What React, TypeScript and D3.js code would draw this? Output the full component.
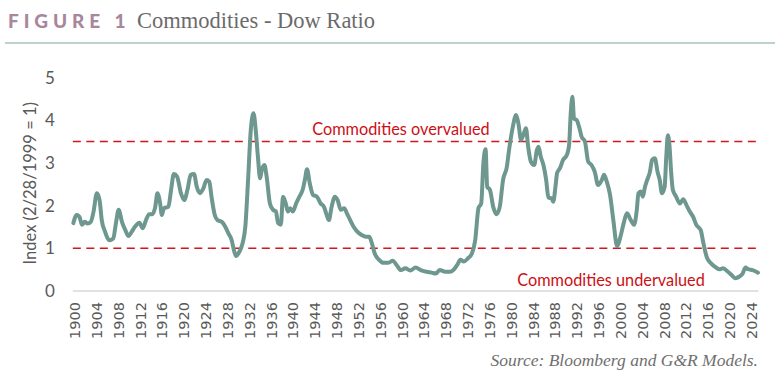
import React from "react";
import * as d3 from "d3";

// Commodities / Dow ratio
const years = [
  1899.7, 1900.3, 1900.8, 1901.3, 1901.8, 1902.3, 1902.9, 1903.4, 1904.0, 1904.5,
  1904.9, 1905.5, 1906.3, 1907.0, 1907.5, 1908.0, 1908.6, 1909.2, 1909.8, 1910.4,
  1911.0, 1911.8, 1912.4, 1913.0, 1913.6, 1914.2, 1914.7, 1915.1, 1915.6, 1915.9,
  1916.3, 1917.1, 1917.6, 1918.1, 1918.7, 1919.4, 1920.0, 1920.6, 1921.2, 1921.8,
  1922.3, 1922.9, 1923.5, 1924.1, 1924.6, 1925.0, 1925.6, 1926.1, 1926.9, 1927.5,
  1928.1, 1928.7, 1929.1, 1929.5, 1930.1, 1930.7, 1931.2, 1931.7, 1932.2, 1932.7,
  1933.1, 1933.5, 1933.9, 1934.2, 1934.7, 1935.1, 1935.7, 1936.3, 1936.8, 1937.2,
  1937.7, 1938.1, 1938.6, 1939.0, 1939.4, 1939.9, 1940.5, 1941.1, 1941.7, 1942.1,
  1942.5, 1943.0, 1943.6, 1944.3, 1945.0, 1945.6, 1946.1, 1946.5, 1947.0, 1947.6,
  1948.1, 1948.7, 1949.3, 1949.8, 1950.4, 1951.0, 1951.7, 1952.5, 1953.3, 1953.9,
  1954.3, 1954.9, 1955.7, 1956.5, 1957.4, 1958.2, 1958.9, 1959.7, 1960.5, 1961.4,
  1962.4, 1963.3, 1964.4, 1965.3, 1966.1, 1966.8, 1967.8, 1968.7, 1969.3, 1970.0,
  1970.6, 1971.2, 1972.0, 1972.7, 1973.3, 1973.9, 1974.4, 1974.8, 1975.2, 1975.5,
  1976.0, 1976.6, 1977.2, 1977.8, 1978.4, 1979.1, 1979.5, 1980.2, 1980.8, 1981.2,
  1981.7, 1982.1, 1982.6, 1983.0, 1983.5, 1984.1, 1984.6, 1984.9, 1985.3, 1985.8,
  1986.3, 1986.7, 1987.3, 1987.6, 1988.0, 1988.3, 1988.8, 1989.4, 1990.1, 1990.5,
  1990.8, 1991.1, 1991.4, 1991.9, 1992.4, 1992.8, 1993.4, 1994.0, 1994.6, 1995.2,
  1995.8, 1996.5, 1996.9, 1997.4, 1998.0, 1998.6, 1999.3, 1999.9, 2000.5, 2001.1,
  2001.8, 2002.4, 2002.9, 2003.2, 2003.6, 2004.0, 2004.4, 2004.8, 2005.3, 2005.7,
  2006.2, 2006.7, 2007.1, 2007.5, 2008.0, 2008.3, 2008.6, 2008.9, 2009.2, 2009.5,
  2010.1, 2010.8, 2011.4, 2012.0, 2012.6, 2013.2, 2013.8, 2014.6, 2015.1, 2015.7,
  2016.4, 2017.2, 2018.0, 2018.7, 2019.6, 2020.3, 2020.9, 2021.7, 2022.3, 2022.8,
  2023.3, 2024.1, 2025.1,
];

const ratio = [
  1.59, 1.78, 1.74, 1.55, 1.62, 1.58, 1.62, 1.86, 2.29, 2.13,
  1.66, 1.39, 1.19, 1.23, 1.59, 1.90, 1.62, 1.43, 1.29, 1.39,
  1.51, 1.60, 1.47, 1.66, 1.80, 1.80, 1.97, 2.29, 2.05, 1.78,
  1.94, 1.97, 2.37, 2.74, 2.68, 2.29, 2.13, 2.37, 2.72, 2.74,
  2.44, 2.29, 2.40, 2.60, 2.56, 2.21, 1.78, 1.66, 1.62, 1.51,
  1.35, 1.19, 0.96, 0.82, 0.92, 1.12, 1.51, 2.60, 3.77, 4.16,
  3.77, 3.15, 2.64, 2.83, 2.95, 2.68, 2.05, 1.90, 1.86, 1.59,
  1.55, 2.21, 2.05, 1.86, 1.94, 1.86, 2.05, 2.21, 2.37, 2.60,
  2.85, 2.52, 2.25, 2.21, 2.05, 1.97, 1.78, 1.66, 1.97, 2.21,
  2.13, 1.90, 1.94, 1.82, 1.66, 1.51, 1.39, 1.31, 1.27, 1.27,
  1.15, 0.88, 0.73, 0.66, 0.66, 0.71, 0.61, 0.49, 0.53, 0.48,
  0.55, 0.49, 0.45, 0.43, 0.41, 0.49, 0.45, 0.45, 0.49, 0.61,
  0.73, 0.69, 0.77, 0.88, 1.19, 1.94, 2.05, 2.99, 3.32, 2.44,
  2.37, 1.97, 1.80, 1.97, 2.60, 2.91, 3.30, 3.85, 4.12, 3.93,
  3.54, 3.65, 3.81, 3.38, 3.03, 2.95, 3.30, 3.38, 3.15, 2.95,
  2.60, 2.19, 2.17, 2.09, 2.44, 2.76, 2.87, 3.07, 3.19, 3.42,
  4.16, 4.55, 4.04, 4.00, 3.81, 3.61, 3.50, 3.03, 2.95, 2.79,
  2.48, 2.60, 2.72, 2.56, 2.25, 1.66, 1.05, 1.27, 1.59, 1.82,
  1.66, 1.55, 1.90, 2.29, 2.33, 2.21, 2.44, 2.60, 2.79, 3.07,
  3.11, 2.79, 2.60, 2.29, 2.44, 3.15, 3.65, 3.38, 2.76, 2.37,
  2.21, 2.05, 2.15, 2.01, 1.86, 1.74, 1.55, 1.43, 1.12, 0.80,
  0.66, 0.57, 0.51, 0.53, 0.45, 0.37, 0.30, 0.34, 0.41, 0.55,
  0.51, 0.49, 0.43,
];

const yTicks = [0, 1, 2, 3, 4, 5];
const xTicks = d3.range(1900, 2025, 4);
const overValued = 3.5;
const underValued = 1;

const W = 775;
const H = 374;

export default function App() {
  const x = d3.scaleLinear().domain([1900, 2024]).range([75, 752]);
  const y = d3.scaleLinear().domain([0, 5]).range([291, 77.5]);
  const x0 = x(1899.6);
  const x1 = x(2025.2);

  const pts: [number, number][] = years.map((yr, i) => [yr, ratio[i]]);
  const line = d3
    .line<[number, number]>()
    .x((d) => x(d[0]))
    .y((d) => y(d[1]))
    .curve(d3.curveMonotoneX);

  const sans = "Lato, 'Open Sans', sans-serif";
  const serif = "'Liberation Serif', 'DejaVu Serif', serif";

  return (
    <svg
      width={W}
      height={H}
      style={{ position: "absolute", left: 0, top: 0, background: "#fff" }}
    >
      {/* title */}
      <text x={8} y={28} fontFamily={sans} fontWeight={900} fontSize={19} letterSpacing={4.9} fill="#a8879b">
        FIGURE 1
      </text>
      <text x={137} y={28} fontFamily={serif} fontSize={22.5} fill="#6b6b6b">
        Commodities - Dow Ratio
      </text>
      <line x1={5} x2={775} y1={43} y2={43} stroke="#a7c3be" strokeWidth={1.5} />

      {/* y axis */}
      {yTicks.map((t) => (
        <text key={t} x={50} y={y(t) + 6} textAnchor="middle" fontFamily={sans} fontSize={17} fill="#595959">
          {t}
        </text>
      ))}
      <text
        transform={`translate(36,${y(2.5) - 1}) rotate(-90)`}
        textAnchor="middle"
        fontFamily={sans}
        fontSize={16.5}
        fill="#595959"
      >
        Index (2/28/1999 = 1)
      </text>

      {/* x axis */}
      <line x1={x0} x2={x1} y1={y(0)} y2={y(0)} stroke="#d9d9d9" strokeWidth={1.5} />
      {xTicks.map((t) => (
        <text
          key={t}
          transform={`translate(${x(t) + 5},302) rotate(-90)`}
          textAnchor="end"
          fontFamily="'DejaVu Sans', sans-serif"
          fontSize={14.5}
          fill="#595959"
        >
          {t}
        </text>
      ))}

      {/* thresholds */}
      {[overValued, underValued].map((v) => (
        <line
          key={v}
          x1={x0}
          x2={x1}
          y1={y(v)}
          y2={y(v)}
          stroke="#d0161e"
          strokeWidth={1.6}
          strokeDasharray="8 5.5"
        />
      ))}
      <text x={401} y={135} textAnchor="middle" fontFamily={sans} fontSize={16.3} fill="#cc1016">
        Commodities overvalued
      </text>
      <text x={611} y={286} textAnchor="middle" fontFamily={sans} fontSize={16.3} fill="#cc1016">
        Commodities undervalued
      </text>

      {/* series */}
      <path d={line(pts) ?? ""} fill="none" stroke="#6e9790" strokeWidth={4} strokeLinejoin="round" strokeLinecap="round" />

      {/* source */}
      <text x={758} y={366} textAnchor="end" fontFamily={serif} fontStyle="italic" fontSize={17.5} fill="#6f6f6f">
        Source: Bloomberg and G&amp;R Models.
      </text>
    </svg>
  );
}
